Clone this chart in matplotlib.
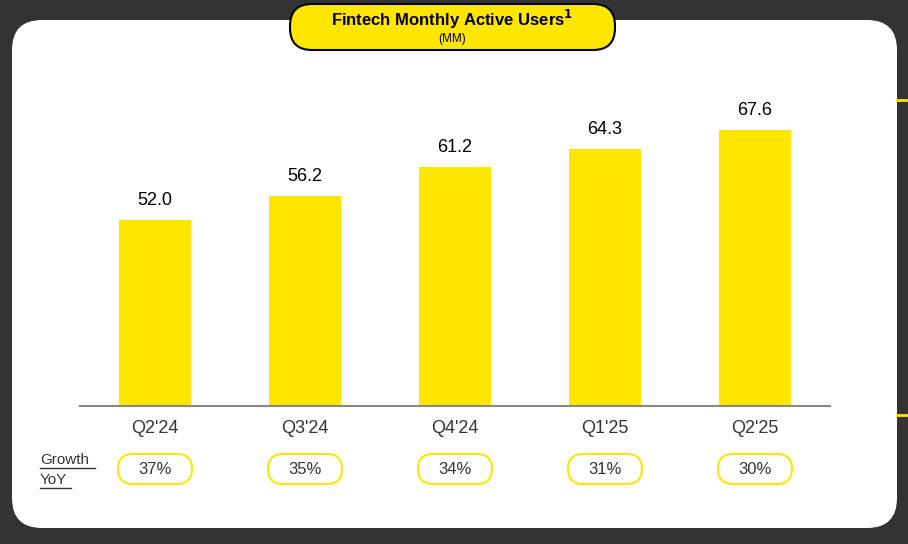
import matplotlib
matplotlib.use("Agg")
import matplotlib.pyplot as plt
from matplotlib.patches import FancyBboxPatch

categories = ["Q2'24", "Q3'24", "Q4'24", "Q1'25", "Q2'25"]
values = [52.0, 56.2, 61.2, 64.3, 67.6]
growth = ["37%", "35%", "34%", "31%", "30%"]

W, H = 908, 544
fig = plt.figure(figsize=(W/100, H/100), dpi=100)
fig.patch.set_facecolor("#333333")
YEL = "#FFE600"
FONT = "Liberation Sans"

def pixel_axes(z):
    a = fig.add_axes([0, 0, 1, 1], zorder=z)
    a.set_xlim(0, W); a.set_ylim(H, 0); a.axis("off"); a.set_facecolor("none")
    return a

bg = pixel_axes(0)
bg.add_patch(FancyBboxPatch((12, 20), 885, 508, boxstyle="round,pad=0,rounding_size=30",
                            facecolor="white", edgecolor="none"))
for y in (100, 415):
    bg.plot([897, 908], [y, y], color=YEL, lw=2)

ax = fig.add_axes([80/W, 138/H, 750/W, 346/H], zorder=1)
ax.set_facecolor("none")
x = range(len(categories))
ax.bar(x, values, width=0.48, color=YEL)
for i, v in zip(x, values):
    ax.text(i, v + 2.0, f"{v:.1f}", ha="center", va="bottom", fontsize=13, family=FONT)
ax.set_xlim(-0.5, 4.5)
ax.set_ylim(19.8, 79.8)
ax.set_yticks([])
ax.set_xticks(list(x))
ax.set_xticklabels(categories, fontsize=13, family=FONT, color="#333333")
ax.tick_params(axis="x", length=0, pad=10)
for s in ("top", "right", "left"):
    ax.spines[s].set_visible(False)
ax.spines["bottom"].set_color("#888888")
ax.spines["bottom"].set_linewidth(1.5)

ov = pixel_axes(2)
ov.add_patch(FancyBboxPatch((290, 4), 325, 46, boxstyle="round,pad=0,rounding_size=22",
                            facecolor=YEL, edgecolor="black", lw=1.5))
ov.text(452, 19, "Fintech Monthly Active Users$^{\\mathbf{1}}$", ha="center", va="center",
        fontsize=12, fontweight="bold", family=FONT)
ov.text(452, 39, "(MM)", ha="center", va="center", fontsize=8.5, family=FONT)

for i, g in enumerate(growth):
    cx = 155 + 150 * i
    ov.add_patch(FancyBboxPatch((cx - 37, 454), 74, 30, boxstyle="round,pad=0,rounding_size=15",
                                facecolor="white", edgecolor=YEL, lw=1.5))
    ov.text(cx, 469, g, ha="center", va="center", fontsize=12, family=FONT, color="#333333")
ov.text(40, 460, "Growth", ha="left", va="center", fontsize=11, family=FONT, color="#333333")
ov.text(40, 480, "YoY", ha="left", va="center", fontsize=11, family=FONT, color="#333333")
ov.plot([40, 95], [468, 468], color="#333333", lw=1)
ov.plot([40, 71], [488, 488], color="#333333", lw=1)

fig.savefig("out.png", dpi=100, facecolor=fig.get_facecolor())
